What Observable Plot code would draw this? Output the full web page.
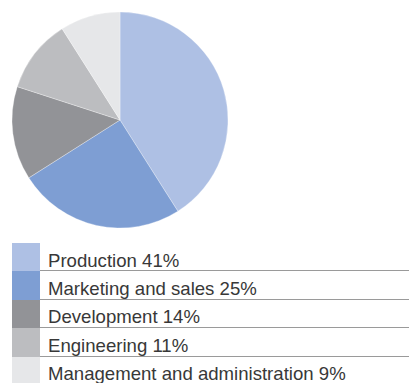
<!DOCTYPE html>
<html>
<head>
<meta charset="utf-8">
<script src="https://cdn.jsdelivr.net/npm/d3@7"></script>
<script src="https://cdn.jsdelivr.net/npm/@observablehq/plot@0.6"></script>
<style>
  html, body { margin: 0; padding: 0; background: #fff; }
  body { width: 409px; height: 383px; overflow: hidden; position: relative;
         font-family: "Liberation Sans", Arial, Helvetica, sans-serif; }
  #chart svg { display: block; }
  #legend { position: absolute; left: 0; top: 243px; width: 409px; }
  .row { position: relative; height: 28.4px; }
  .swatch { position: absolute; left: 12px; top: 0; width: 28px; height: 28.4px; }
  .label { position: absolute; left: 48px; top: 0; right: 0; height: 28.4px;
           font-size: 18.6px; line-height: 1; color: #383838; white-space: nowrap; }
  .label span { position: absolute; left: 0; bottom: 1.2px; }
  .rule { position: absolute; right: 0; bottom: 0; height: 1px; background: #9a9a9a; }
</style>
</head>
<body>
<div id="chart"></div>
<div id="legend"></div>
<script>
// Workforce split by function (percent of staff)
const categories = ["Production", "Marketing and sales", "Development", "Engineering", "Management and administration"];
const shares = [41, 25, 14, 11, 9];
const palette = ["#aec0e4", "#7e9ed3", "#929397", "#bcbdc0", "#e6e7e9"];

const data = categories.map((name, i) => ({name, share: shares[i]}));
const color = Plot.scale({color: {type: "ordinal", domain: categories, range: palette}});

// Pie drawn in a unit square: x/y scales map [-1, 1] onto the plot frame
function pie(rows) {
  return (index, scales, values, dimensions) => {
    const {width, height, marginLeft, marginRight, marginTop, marginBottom} = dimensions;
    const x = scales.x ?? d3.scaleLinear([-1, 1], [marginLeft, width - marginRight]);
    const y = scales.y ?? d3.scaleLinear([-1, 1], [height - marginBottom, marginTop]);
    const r = x(1) - x(0);
    const arcs = d3.pie().sort(null).value(d => d.share)(rows);
    const arc = d3.arc().innerRadius(0).outerRadius(r);
    const g = d3.create("svg:g").attr("transform", `translate(${x(0)},${y(0)})`);
    g.selectAll("path")
      .data(arcs)
      .join("path")
        .attr("d", arc)
        .attr("fill", d => color.apply(d.data.name))
        .attr("stroke", "#fff")
        .attr("stroke-opacity", 0.5)
        .attr("stroke-width", 0.6);
    return g.node();
  };
}

const chart = Plot.plot({
  width: 240,
  height: 240,
  margin: 12,
  x: {type: "linear", domain: [-1, 1], axis: null},
  y: {type: "linear", domain: [-1, 1], axis: null},
  style: {background: "transparent"},
  marks: [pie(data)]
});
document.getElementById("chart").append(chart);

// Legend: colour swatch, label with share, hairline under each entry
const legend = d3.select("#legend");
data.forEach((d, i) => {
  const row = legend.append("div").attr("class", "row");
  row.append("div").attr("class", "swatch").style("background", color.apply(d.name));
  const label = row.append("div").attr("class", "label");
  label.append("span").text(`${d.name} ${d.share}%`);
  if (i < data.length - 1) label.append("div").attr("class", "rule").style("left", "-8px");
});
</script>
</body>
</html>
